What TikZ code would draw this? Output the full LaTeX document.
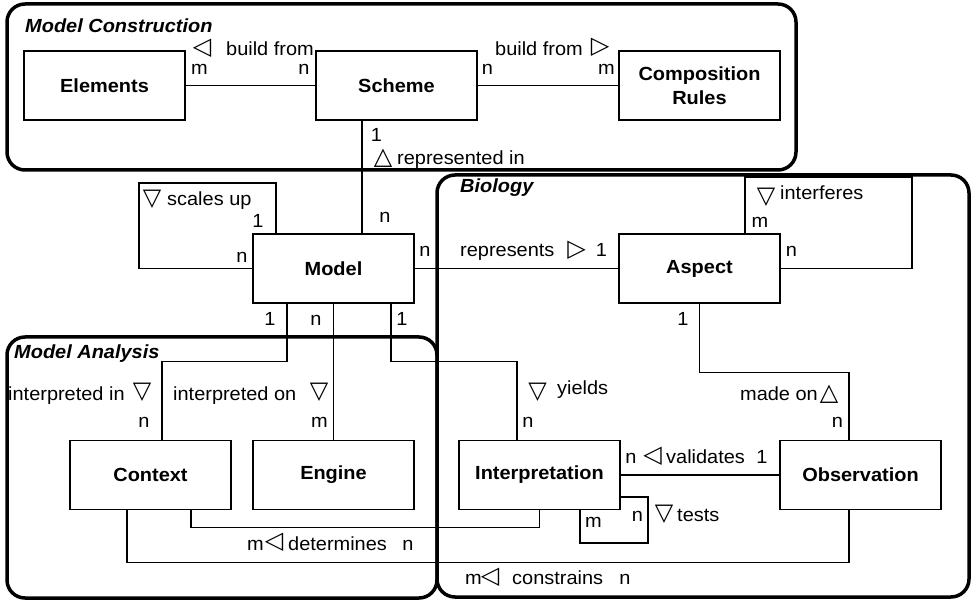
\documentclass[tikz,border=0pt]{standalone}
\usepackage{fontspec}
\setmainfont{Liberation Sans}[FakeStretch=1.05]
\newfontfamily\trifont{DejaVu Sans}
\tikzset{
 box/.style={draw, line width=1.5pt, fill=white, minimum width=161pt, minimum height=69pt, inner sep=0pt, font=\fontsize{19}{24}\selectfont\bfseries, align=center},
 conn/.style={line width=1.3pt},
 container/.style={line width=3.5pt, rounded corners=18pt},
 lab/.style={inner sep=0pt, font=\fontsize{19}{22}\selectfont},
 ttl/.style={inner sep=0pt, font=\fontsize{19}{22}\selectfont\bfseries\itshape, anchor=base west},
 tri/.style={inner sep=0pt, font=\fontsize{24}{24}\trifont},
}
\begin{document}
\begin{tikzpicture}[x=1pt,y=-1pt]
\useasboundingbox (0,0) rectangle (972,601);
% containers
\draw[container] (7,4) rectangle (796,170);
\draw[container] (437,175) rectangle (969,597);
\draw[container] (7,337) rectangle (437,598);
% boxes
\node[box] (elements) at (104.5,85.5) {Elements};
\node[box] (scheme) at (396.5,85.5) {Scheme};
\node[box] (comp) at (699.5,85.5) {Composition\\Rules};
\node[box] (model) at (333.5,268.5) {Model};
\node[box] (aspect) at (699.5,268.5) {Aspect};
\node[box] (context) at (150.5,475) {Context};
\node[box] (engine) at (333.5,475) {Engine};
\node[box] (interp) at (539.5,475) {Interpretation};
\node[box] (obs) at (860.5,475) {Observation};
% connectors
\draw[conn] (elements.east) -- (scheme.west);
\draw[conn] (scheme.east) -- (comp.west);
\draw[conn] ([xshift=-34.5pt]scheme.south) -- ([xshift=28.5pt]model.north);
\draw[conn] (model.west) -| (139,183) -| ([xshift=-57.5pt]model.north);
\draw[conn] (model.east) -- (aspect.west);
\draw[conn] (aspect.east) -| (912,177) -| ([xshift=45.5pt]aspect.north);
\draw[conn] (aspect.south) -- ++(0,69) -| ([xshift=-11.5pt]obs.north);
\draw[conn] ([xshift=-46.5pt]model.south) -- ++(0,58) -| ([xshift=11.5pt]context.north);
\draw[conn] (model.south) -- (engine.north);
\draw[conn] ([xshift=57.5pt]model.south) -- ++(0,58) -| ([xshift=-22.5pt]interp.north);
\draw[conn] (interp.east) -- (obs.west);
\draw[conn] ([yshift=-22pt]interp.east) -| (648,543) -| ([xshift=40.5pt]interp.south);
\draw[conn] (interp.south) -- ++(0,17) -| ([xshift=40.5pt]context.south);
\draw[conn] ([xshift=-11.5pt]obs.south) -- ++(0,52) -| ([xshift=-23.5pt]context.south);
% titles
\node[ttl] (tmc) at (25,33) {Model Construction};
\node[ttl] (tbio) at (460,193) {Biology};
\node[ttl] (tma) at (14,359) {Model Analysis};
% labels: construction
\node[tri] (t1) at (202,48.5) {◁};
\node[lab, anchor=base west] (l1) at (226,56) {build from};
\node[lab, anchor=base] (l2) at (199.5,74.5) {m};
\node[lab, anchor=base] (l3) at (304,74.5) {n};
\node[lab, anchor=base] (l4) at (487.5,74.5) {n};
\node[lab, anchor=base west] (l5) at (495,56) {build from};
\node[tri] (t2) at (600,47) {▷};
\node[lab, anchor=base] (l6) at (606.5,74.5) {m};
\node[lab, anchor=base] (l7) at (376.5,142) {1};
\node[tri] (t3) at (383,158) {△};
\node[lab, anchor=base west] (l8) at (397,165) {represented in};
% labels: model
\node[tri] (t4) at (152,199) {▽};
\node[lab, anchor=base west] (l9) at (167,206) {scales up};
\node[lab, anchor=base] (l10) at (258,228) {1};
\node[lab, anchor=base] (l11) at (242,263) {n};
\node[lab, anchor=base] (l12) at (385,223) {n};
\node[lab, anchor=base] (l13) at (425,257) {n};
\node[lab, anchor=base] (l14) at (270,326) {1};
\node[lab, anchor=base] (l15) at (316,326) {n};
\node[lab, anchor=base] (l16) at (402,326) {1};
% labels: biology
\node[lab, anchor=base west] (l17) at (460,257) {represents};
\node[tri] (t5) at (576.5,250) {▷};
\node[lab, anchor=base] (l18) at (601.5,257) {1};
\node[tri] (t6) at (766,197) {▽};
\node[lab, anchor=base west] (l19) at (780,200) {interferes};
\node[lab, anchor=base] (l20) at (760,228) {m};
\node[lab, anchor=base] (l21) at (791.5,257) {n};
\node[lab, anchor=base] (l22) at (683,326) {1};
% labels: analysis
\node[lab, anchor=base west] (l23) at (8,401) {interpreted in};
\node[tri] (t7) at (142,392) {▽};
\node[lab, anchor=base] (l24) at (144,428) {n};
\node[lab, anchor=base west] (l25) at (173,401) {interpreted on};
\node[tri] (t8) at (319,392) {▽};
\node[lab, anchor=base] (l26) at (319.5,428) {m};
\node[lab, anchor=base] (l27) at (255.5,550) {m};
\node[tri] (t9) at (274,542) {◁};
\node[lab, anchor=base west] (l28) at (288,550) {determines};
\node[lab, anchor=base] (l29) at (408,550) {n};
% labels: interpretation / observation
\node[tri] (t10) at (537.5,392) {▽};
\node[lab, anchor=base west] (l30) at (557,395) {yields};
\node[lab, anchor=base] (l31) at (528,428) {n};
\node[lab, anchor=base east] (l32) at (818,401) {made on};
\node[tri] (t11) at (829,394) {△};
\node[lab, anchor=base] (l33) at (837.5,428) {n};
\node[lab, anchor=base] (l34) at (631,464) {n};
\node[tri] (t12) at (652.5,456) {◁};
\node[lab, anchor=base west] (l35) at (666,464) {validates};
\node[lab, anchor=base] (l36) at (762,464) {1};
\node[lab, anchor=base] (l37) at (593.5,527) {m};
\node[lab, anchor=base] (l38) at (637.5,521) {n};
\node[tri] (t13) at (664,514) {▽};
\node[lab, anchor=base west] (l39) at (677,521) {tests};
\node[lab, anchor=base] (l40) at (473.5,584) {m};
\node[tri] (t14) at (490,577) {◁};
\node[lab, anchor=base west] (l41) at (512,584) {constrains};
\node[lab, anchor=base] (l42) at (625,584) {n};
\end{tikzpicture}
\end{document}
